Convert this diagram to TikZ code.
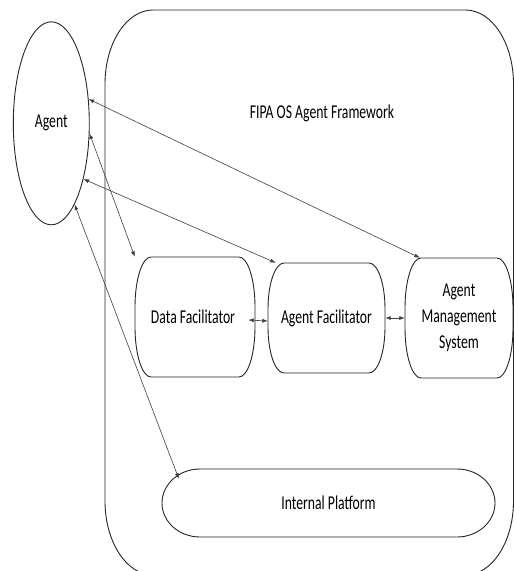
\documentclass[tikz,border=0pt]{standalone}
\usepackage{fontspec}
\setmainfont{Carlito}[FakeStretch=0.7]
\usetikzlibrary{arrows.meta,shapes.geometric}
\newcommand{\softrect}[7][]{%
 \draw[#1] (#2+#6,#3) -- (#4-#6,#3)
  .. controls (#4-0.4477*#6,#3) and (#4,#3+0.4477*#7) .. (#4,#3+#7)
  -- (#4,#5-#7)
  .. controls (#4,#5-0.4477*#7) and (#4-0.4477*#6,#5) .. (#4-#6,#5)
  -- (#2+#6,#5)
  .. controls (#2+0.4477*#6,#5) and (#2,#5-0.4477*#7) .. (#2,#5-#7)
  -- (#2,#3+#7)
  .. controls (#2,#3+0.4477*#7) and (#2+0.4477*#6,#3) .. cycle;}
\tikzset{
  lbl/.style={font=\fontsize{19.6}{26}\selectfont, align=center, text=black},
  holder/.style={lbl, draw=none, inner sep=0pt, rectangle},
  outline/.style={draw=black!85, line width=0.9pt},
  conn/.style={draw=black!75, line width=0.6pt, {Latex[length=5.5pt,width=4pt]}-{Latex[length=5.5pt,width=4pt]}}
}
\begin{document}
\begin{tikzpicture}[x=1pt,y=-1pt]
\useasboundingbox (0,0) rectangle (514,571);
\clip (0,0) rectangle (514,571);
\fill[white] (0,0) rectangle (514,571);
% framework
\softrect[outline]{105}{10}{513.5}{575}{48}{74}
\node[lbl] (fipa) at (322,113) {FIPA OS Agent Framework};
% agent
\node[lbl, draw=black!85, line width=0.9pt, ellipse, minimum width=76pt, minimum height=203pt, inner sep=0pt] (agent) at (51.3,123.3) {Agent};
% boxes
\node[holder, minimum width=120pt, minimum height=120pt] (df) at (193,317) {Data Facilitator};
\softrect[outline]{135}{257}{255}{377}{16}{50}
\node[holder, minimum width=117pt, minimum height=110pt] (af) at (326.5,318) {Agent Facilitator};
\softrect[outline]{268}{263}{385}{373}{16}{46}
\node[holder, minimum width=108pt, minimum height=120pt] (ams) at (459,318) {Agent\\Management\\System};
\softrect[outline]{405}{258}{513}{378}{16}{50}
\node[holder, minimum width=333pt, minimum height=68pt] (ip) at (328.5,503) {Internal Platform};
\softrect[outline]{162}{469}{495}{537}{38}{34}
% connectors
\draw[conn] (agent.33) -- ([xshift=15pt]ams.north west);
\draw[conn] (agent.-15) -- ([xshift=2pt]df.north west);
\draw[conn] (agent.-60) -- ([xshift=8pt]af.north west);
\draw[conn] (agent.-74) -- ([xshift=17pt,yshift=-10pt]ip.north west);
\draw[conn] ([xshift=-5pt,yshift=-3pt]df.east) -- ([yshift=-3pt]af.east -| af.west);
\draw[conn] (af.east) -- (ams.west);
\end{tikzpicture}
\end{document}
